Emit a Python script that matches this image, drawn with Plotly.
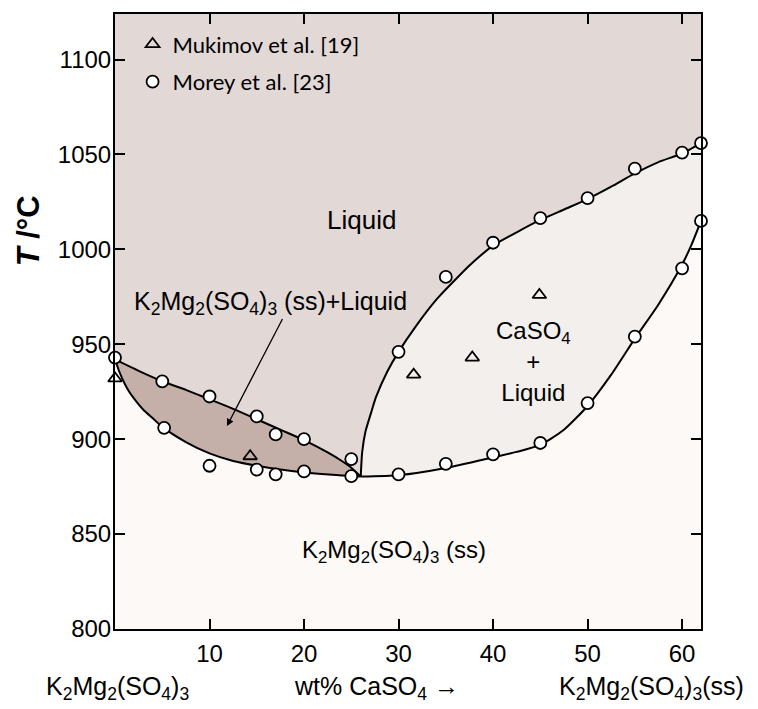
import plotly.graph_objects as go

# ---------------- data ----------------
morey_x = [0, 5, 5.2, 10, 10, 15, 15, 17, 17, 20, 20, 25, 25, 30, 30, 35, 35,
           40, 40, 45, 45, 50, 50, 55, 55, 60, 60, 62, 62]
morey_y = [943, 930.5, 906, 922.5, 886, 912, 884, 902.5, 881.5, 900, 883, 889.5, 880.5,
           946, 881.5, 985.5, 887, 1003.5, 892, 1016.5, 898, 1027, 919, 1042.5, 954,
           1051, 990, 1056, 1015]

mukimov_x = [0, 14.3, 31.6, 37.8, 44.9]
mukimov_y = [932, 891, 934, 943, 976]

# left lens: liquidus (upper) and solidus (lower), 0 -> eutectic
left_up_x = [0, 2.5, 5, 7.5, 10, 12.5, 15, 17.5, 20, 22.5, 24, 25, 26]
left_up_y = [942, 936, 930.5, 926, 921, 916, 910.5, 905, 899.5, 893, 888.5, 885, 880.3]
left_lo_x = [0, 0.5, 1, 1.5, 2, 3, 4, 5, 7.5, 10, 12.5, 15, 17.5, 20, 23, 26]
left_lo_y = [942, 935, 929.5, 925, 921.5, 915.5, 911, 906.5, 898.5, 892.5, 888.5, 886,
             884, 882.5, 881.2, 880.3]

# right lens: upper (liquidus) and lower boundary, eutectic -> 62
right_up_x = [26, 26.15, 26.5, 27.1, 27.6, 28.8, 30, 31.9, 34, 36, 37.5, 40, 42.5, 45,
              47.5, 50, 52.5, 55, 57.5, 60, 62]
right_up_y = [880.3, 893, 904, 914, 922, 935.5, 946, 960, 973.5, 984, 991.5, 1002,
              1009, 1015.5, 1021, 1026.5, 1033, 1040, 1046, 1050.5, 1056]
right_lo_x = [26, 30, 35, 40, 42.5, 45, 47.5, 50, 52.5, 55, 57.5, 60, 61, 62]
right_lo_y = [880.3, 881, 884.8, 890.4, 893.3, 897, 905, 917.5, 934, 953, 971, 992,
              1002.5, 1015]

x_ticks = [10, 20, 30, 40, 50, 60]
y_ticks = [800, 850, 900, 950, 1000, 1050, 1100]
x_range = [0, 62]
y_range = [800, 1124]

# ---------------- styling ----------------
C_LIQ = "#e2d8d6"
C_SOLID = "#fcf9f7"
C_LEFT = "#c4b0a9"
C_RIGHT = "#f3efed"
FONT = "Liberation Sans, Arial, sans-serif"

fig = go.Figure()

# solid region below everything
sx = [0] + left_lo_x + right_lo_x[1:] + [62, 0]
sy = [800] + left_lo_y + right_lo_y[1:] + [800, 800]
fig.add_trace(go.Scatter(x=sx, y=sy, fill="toself", fillcolor=C_SOLID, mode="none",
                         showlegend=False, hoverinfo="skip"))
# left lens
lx = left_up_x + left_lo_x[::-1]
ly = left_up_y + left_lo_y[::-1]
fig.add_trace(go.Scatter(x=lx, y=ly, fill="toself", fillcolor=C_LEFT, mode="none",
                         showlegend=False, hoverinfo="skip"))
# right lens
rx = right_up_x + right_lo_x[::-1]
ry = right_up_y + right_lo_y[::-1]
fig.add_trace(go.Scatter(x=rx, y=ry, fill="toself", fillcolor=C_RIGHT, mode="none",
                         showlegend=False, hoverinfo="skip"))

# boundary lines
for cx, cy in [(left_up_x, left_up_y), (left_lo_x, left_lo_y),
               (right_up_x, right_up_y), (right_lo_x, right_lo_y)]:
    fig.add_trace(go.Scatter(x=cx, y=cy, mode="lines",
                             line=dict(color="black", width=2, shape="spline", smoothing=0.6),
                             showlegend=False, hoverinfo="skip", cliponaxis=False))

# data points
fig.add_trace(go.Scatter(x=mukimov_x, y=mukimov_y, mode="markers", name="Mukimov et al. [19]",
                         marker=dict(symbol="triangle-up-open", size=12, color="black",
                                     line=dict(width=1.8, color="black")),
                         cliponaxis=False, legendgroup="a"))
fig.add_trace(go.Scatter(x=morey_x, y=morey_y, mode="markers", name="Morey et al. [23]",
                         marker=dict(symbol="circle", size=12, color="white",
                                     line=dict(width=1.8, color="black")),
                         cliponaxis=False, legendgroup="b"))

# annotations inside the plot
def lab(size):
    return dict(font=dict(family=FONT, size=size, color="black"), showarrow=False,
                xref="x", yref="y")

fig.add_annotation(x=26.1, y=1015.5, text="Liquid", **lab(26))
fig.add_annotation(x=16.45, y=972, text="K<sub>2</sub>Mg<sub>2</sub>(SO<sub>4</sub>)<sub>3</sub> (ss)+Liquid", **lab(25))
fig.add_annotation(x=44.25, y=941, text="CaSO<sub>4</sub><br>+<br>Liquid", **lab(24))
fig.add_annotation(x=29.5, y=841, text="K<sub>2</sub>Mg<sub>2</sub>(SO<sub>4</sub>)<sub>3</sub> (ss)", **lab(24))

# arrow
fig.add_annotation(x=11.84, y=906.9, ax=17.8, ay=964.1, axref="x", ayref="y",
                   xref="x", yref="y", text="", showarrow=True,
                   arrowhead=2, arrowsize=1.1, arrowwidth=1.3, arrowcolor="black")

# outside labels
out = dict(font=dict(family=FONT, size=25, color="black"), showarrow=False,
           xref="paper", yref="paper", yanchor="middle")
fig.add_annotation(x=0.005, y=-0.0956, xanchor="center",
                   text="K<sub>2</sub>Mg<sub>2</sub>(SO<sub>4</sub>)<sub>3</sub>", **out)
fig.add_annotation(x=0.447, y=-0.0956, xanchor="center",
                   text="wt% CaSO<sub>4</sub> \u2192", **out)
fig.add_annotation(x=0.915, y=-0.0956, xanchor="center",
                   text="K<sub>2</sub>Mg<sub>2</sub>(SO<sub>4</sub>)<sub>3</sub>(ss)", **out)
fig.add_annotation(x=-0.148, y=0.647, xref="paper", yref="paper", showarrow=False,
                   xanchor="center", yanchor="middle",
                   textangle=-90, text="<b><i>T</i> /°C</b>",
                   font=dict(family=FONT, size=31, color="black"))

axis_common = dict(showline=True, linecolor="black", linewidth=2, mirror="allticks",
                   ticks="inside", ticklen=10, tickwidth=2, tickcolor="black",
                   showgrid=False, zeroline=False,
                   tickfont=dict(family=FONT, size=24, color="black"))

fig.update_layout(
    width=758, height=709,
    margin=dict(l=115, r=57, t=12, b=80),
    paper_bgcolor="white", plot_bgcolor=C_LIQ,
    xaxis=dict(range=x_range, tickvals=x_ticks, ticklabelstandoff=2, **axis_common),
    yaxis=dict(range=y_range, tickvals=y_ticks, ticklabelstandoff=-3, **axis_common),
    legend=dict(x=0.03, y=0.985, xanchor="left", yanchor="top", bgcolor="rgba(0,0,0,0)",
                font=dict(family="Lato, Open Sans, sans-serif", size=22, color="black"),
                traceorder="grouped", tracegroupgap=6, itemwidth=30),
    showlegend=True,
)

fig.write_html("out.html")
